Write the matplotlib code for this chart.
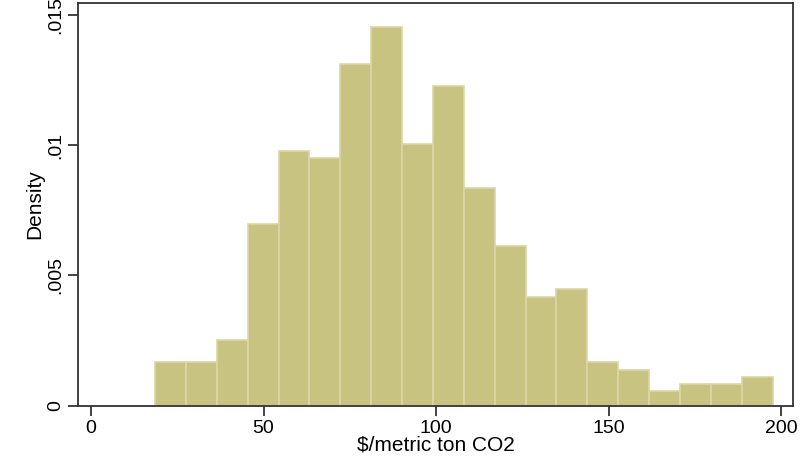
import matplotlib.pyplot as plt
import numpy as np

plt.rcParams['font.family'] = ['Liberation Sans', 'DejaVu Sans']

# histogram of carbon prices, 20 equal bins
bin_start = 18.55
bin_width = 8.95
density = [0.00167, 0.00167, 0.00251, 0.00698, 0.00978, 0.00951, 0.01312,
           0.01453, 0.01005, 0.01229, 0.00837, 0.00613, 0.00419, 0.00447,
           0.00167, 0.00138, 0.00056, 0.00082, 0.00082, 0.00111]

x_ticks = [0, 50, 100, 150, 200]
y_ticks = [0, 0.005, 0.01, 0.015]
y_tick_labels = ["0", ".005", ".01", ".015"]

bar_color = "#C9C382"
edge_color = "#DAD6A6"

fig = plt.figure(figsize=(8.07, 4.62), dpi=100)
ax = fig.add_axes([0.0967, 0.1219, 0.886, 0.8716])

left_edges = bin_start + bin_width * np.arange(len(density))
ax.bar(left_edges, density, width=bin_width, align='edge',
       color=bar_color, edgecolor=edge_color, linewidth=1.2)

ax.set_xlim(-3.8, 203.5)
ax.set_ylim(0, 0.015465)

ax.set_xticks(x_ticks)
ax.set_xticklabels([str(t) for t in x_ticks], fontsize=14)
ax.set_yticks(y_ticks)
ax.set_yticklabels(y_tick_labels, fontsize=14, rotation=90, va='center')

ax.tick_params(axis='both', direction='out', length=7, width=1.2, color='#222222')
ax.tick_params(axis='x', pad=3)
ax.tick_params(axis='y', pad=3)

for side in ['left', 'bottom', 'top', 'right']:
    ax.spines[side].set_linewidth(1.3)
    ax.spines[side].set_color('#333333')

ax.set_xlabel("\\$/metric ton CO2", fontsize=15, labelpad=-1)
ax.set_ylabel("Density", fontsize=15, labelpad=2)

fig.savefig("out.png", dpi=100)
